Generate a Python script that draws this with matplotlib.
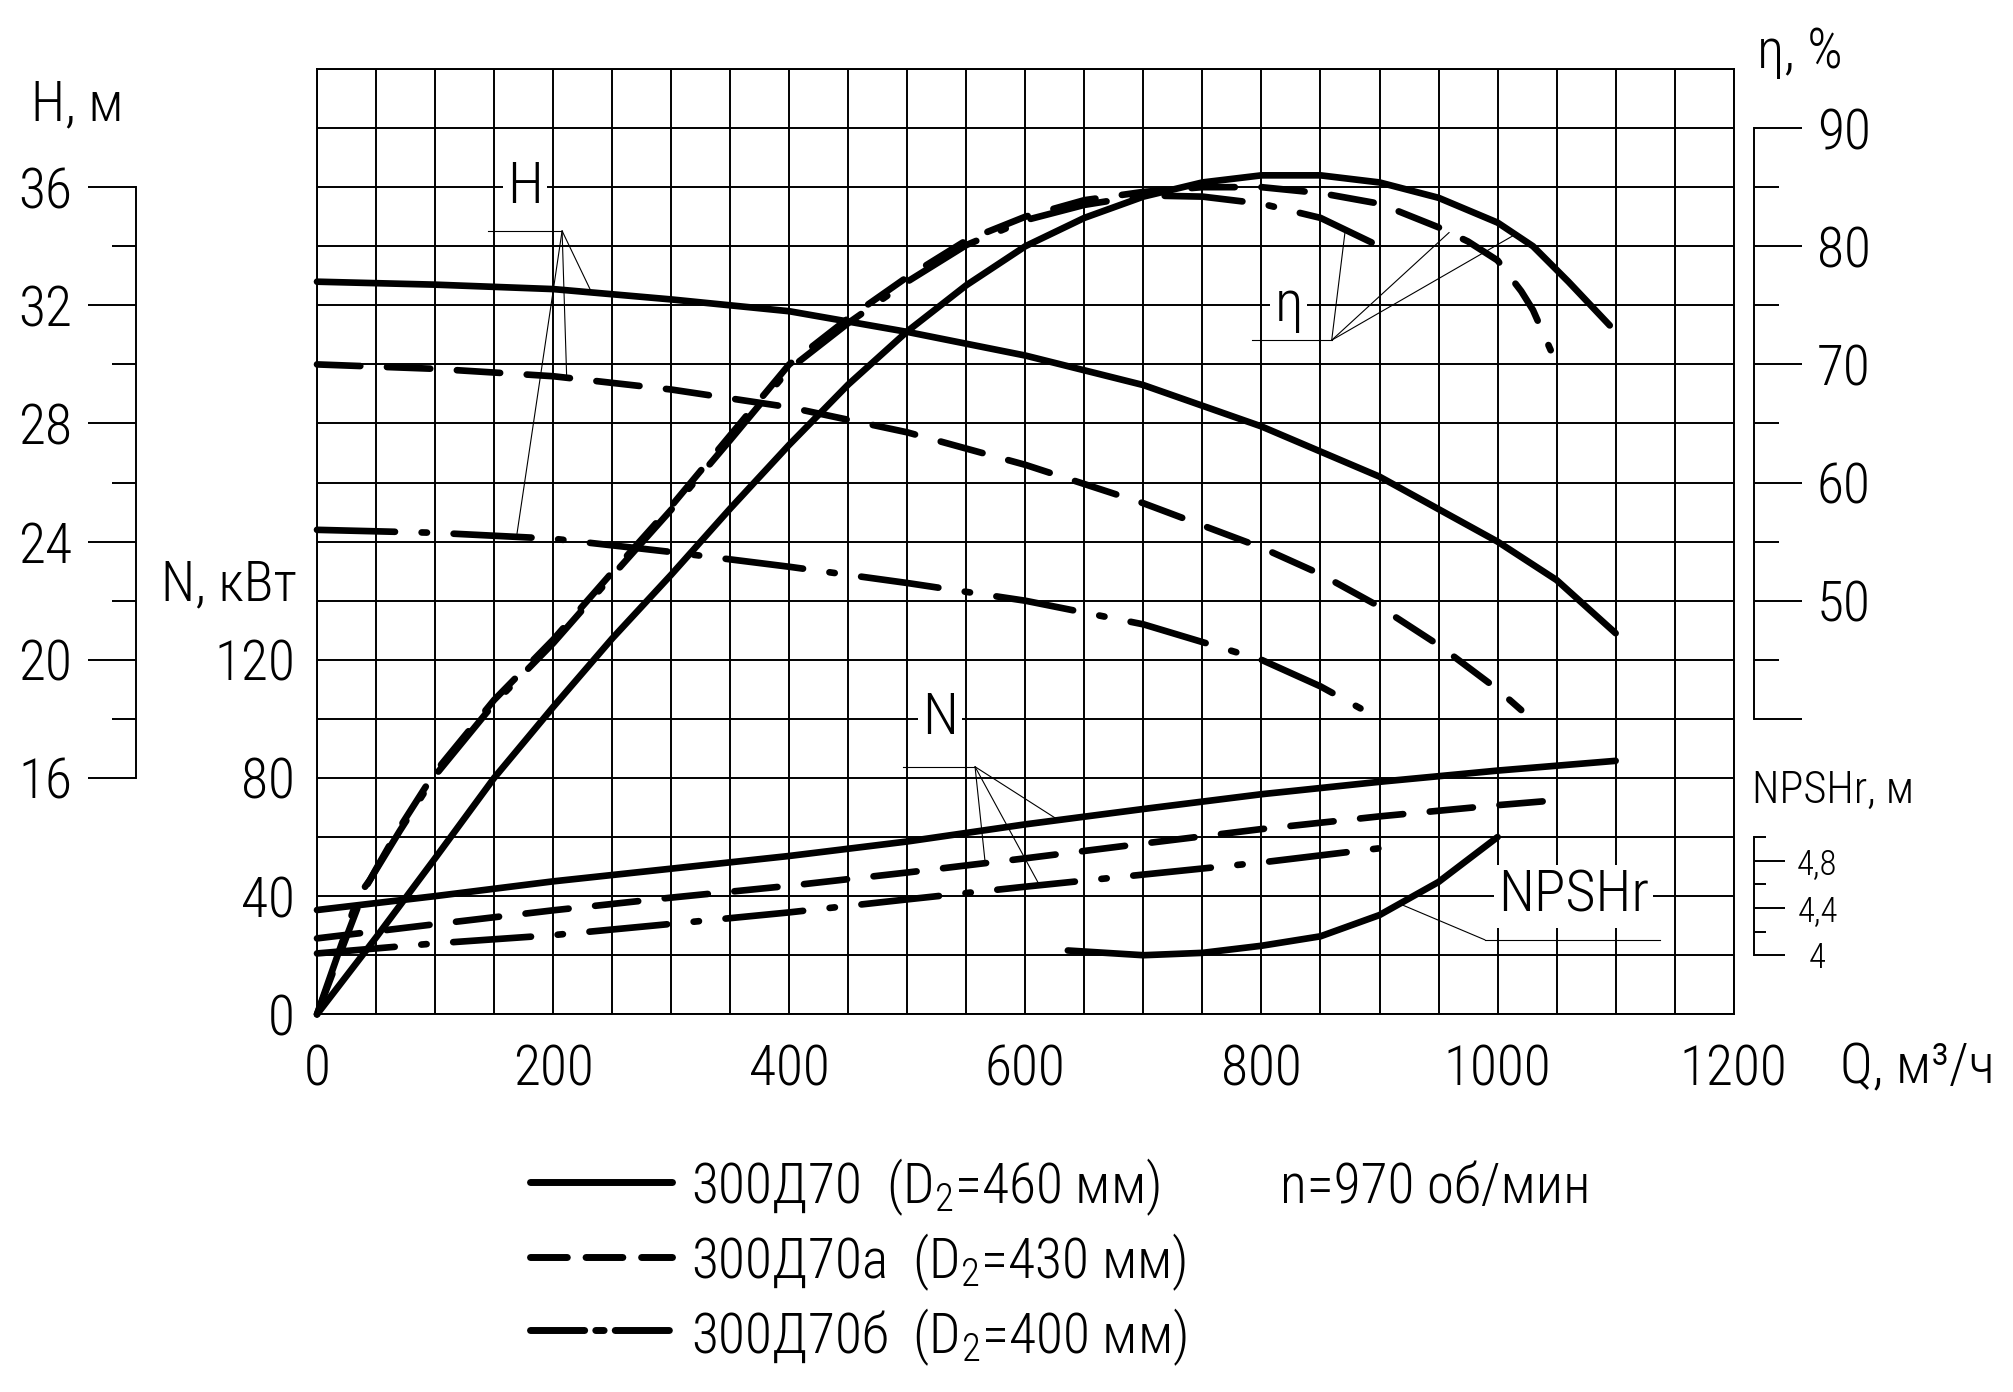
import numpy as np
import matplotlib
matplotlib.use("Agg")
import matplotlib.pyplot as plt
from matplotlib import font_manager
from matplotlib.lines import Line2D
from matplotlib.ticker import FixedLocator, FixedFormatter, FuncFormatter, MultipleLocator

# ----------------------------------------------------------------------------------------------------------------------
# Data (Q in m3/h)

# Head H, m
Q_H1 = [0, 100, 200, 300, 400, 500, 600, 700, 800, 900, 1000, 1050, 1100]
H1 = [32.8, 32.7, 32.55, 32.2, 31.8, 31.1, 30.3, 29.3, 27.9, 26.2, 24.0, 22.7, 20.9]
Q_H2 = [0, 100, 200, 300, 400, 500, 600, 700, 800, 850, 900, 950, 1000, 1020]
H2 = [30.0, 29.85, 29.6, 29.15, 28.55, 27.7, 26.6, 25.3, 23.8, 22.9, 21.8, 20.5, 19.0, 18.3]
Q_H3 = [0, 100, 200, 300, 400, 500, 600, 700, 800, 850, 900]
H3 = [24.4, 24.3, 24.1, 23.65, 23.15, 22.6, 22.0, 21.2, 20.0, 19.1, 18.0]

# Efficiency, %
Q_E1 = [0, 50, 100, 150, 200, 250, 300, 350, 400, 450, 500, 550, 600, 650, 700, 750, 800, 850,
        900, 950, 1000, 1030, 1060, 1095]
E1 = [15, 21.5, 28.2, 35, 41, 46.8, 52.2, 57.8, 63.2, 68.3, 72.8, 76.7, 80, 82.4, 84.2, 85.4, 86, 86,
      85.4, 84.1, 82, 80, 77, 73.3]
Q_E2 = [0, 40, 50, 70, 100, 150, 200, 250, 300, 350, 400, 450, 500, 550, 600, 650, 700, 750, 800,
        850, 900, 950, 975, 1000, 1020, 1030, 1045]
E2 = [15, 25.5, 27.3, 30.8, 35.5, 41.6, 46.7, 52.4, 58.0, 64.0, 70.0, 73.9, 77.4, 80.5, 82.5, 83.9,
      84.6, 85.0, 85.0, 84.5, 83.6, 81.6, 80.4, 78.8, 76.2, 74.6, 71.2]
Q_E3 = [0, 35, 45, 70, 100, 150, 200, 250, 300, 350, 400, 450, 500, 550, 600, 650, 700, 750, 800,
        850, 900]
E3 = [15, 25.0, 26.4, 30.5, 35.2, 41.3, 46.4, 52.1, 57.7, 63.6, 69.6, 73.5, 77.0, 80.1, 82.2, 83.5,
      84.3, 84.2, 83.6, 82.4, 80.0]

# Power N, kW
Q_N1 = [0, 100, 200, 300, 400, 500, 600, 700, 800, 900, 1000, 1100]
N1 = [35.3, 40.0, 45.0, 49.3, 53.6, 58.5, 64.3, 69.5, 74.5, 78.7, 82.5, 85.8]
Q_N2 = [0, 100, 200, 300, 400, 500, 600, 700, 800, 900, 1000, 1045]
N2 = [25.7, 30.5, 35.2, 39.5, 43.5, 48.0, 52.8, 57.8, 62.7, 67.0, 70.8, 72.3]
Q_N3 = [0, 100, 200, 300, 400, 500, 600, 700, 800, 900]
N3 = [20.6, 24.0, 26.8, 30.6, 34.5, 38.9, 43.2, 47.3, 51.4, 56.2]

# NPSHr, m
Q_P = [636, 700, 750, 800, 850, 900, 950, 1000]
P = [4.04, 4.0, 4.02, 4.08, 4.16, 4.34, 4.62, 5.0]

# Axis ticks and labels
N_LABELS = [0, 40, 80, 120]
H_TICKS = [16, 20, 24, 28, 32, 36]
H_MINOR = [18, 22, 26, 30, 34]
E_TICKS = [40, 50, 60, 70, 80, 90]
E_LABELS = ["", "50", "60", "70", "80", "90"]
E_MINOR = [45, 55, 65, 75, 85]
P_TICKS = [4.0, 4.4, 4.8]
P_LABELS = ["4", "4,4", "4,8"]
P_MINOR = [4.2, 4.6, 5.0]

LEGEND = ["300Д70  (D$_2$=460 мм)", "300Д70а  (D$_2$=430 мм)", "300Д70б  (D$_2$=400 мм)"]
SPEED = "n=970 об/мин"

# ----------------------------------------------------------------------------------------------------------------------
# Font: something narrow if it is there

W, H = 2013, 1392
entries = font_manager.fontManager.ttflist
names = {f.name for f in entries}
FONT, STRETCH = "DejaVu Sans", "normal"
for cand in ["Liberation Sans Narrow", "DejaVu Sans Condensed", "Roboto Condensed",
             "Noto Sans Condensed", "Open Sans Condensed"]:
    if cand in names:
        FONT = cand
        break
else:
    for fam in ["DejaVu Sans", "Noto Sans", "Roboto", "Open Sans"]:
        if any(f.name == fam and f.stretch == "condensed" for f in entries):
            FONT, STRETCH = fam, "condensed"
            break

plt.rcParams["font.family"] = [FONT, "DejaVu Sans"]
plt.rcParams["font.stretch"] = STRETCH
plt.rcParams["font.weight"] = "light"
plt.rcParams["mathtext.fontset"] = "custom"
plt.rcParams["mathtext.rm"] = FONT + ":light"
plt.rcParams["mathtext.default"] = "regular"

LW = 4.8
SOLID = dict(color="black", lw=LW, solid_capstyle="round", solid_joinstyle="round", clip_on=False)
DASH = dict(color="black", lw=LW, ls=(0, (6.5, 4.0)), dash_capstyle="round", clip_on=False)
DASHDOT = dict(color="black", lw=LW, ls=(0, (11.7, 4.0, 0.8, 4.0)), dash_capstyle="round", clip_on=False)
THIN = dict(color="black", lw=0.8)
GRID_LW = 1.4

# legend swatches are short, so their dashes are cut shorter
LEG_STYLES = [
    dict(color="black", lw=5, solid_capstyle="round"),
    dict(color="black", lw=5, ls=(0, (5.3, 2.7)), dash_capstyle="round"),
    dict(color="black", lw=5, ls=(0, (7.8, 1.6, 1.2, 1.6)), dash_capstyle="round"),
]


def fx(x):
    return x / W


def fy(y):
    return 1 - y / H


fig = plt.figure(figsize=(W / 100, H / 100), dpi=100)
ax = fig.add_axes([fx(317), fy(1014.3), 1416.7 / W, 945.3 / H])

# Main axes = N scale, carries the grid
ax.set_xlim(0, 1200)
ax.set_ylim(0, 320)
ax.xaxis.set_major_locator(MultipleLocator(50))
ax.yaxis.set_major_locator(MultipleLocator(20))
ax.xaxis.set_major_formatter(FuncFormatter(lambda v, p: f"{v:.0f}" if round(v) % 200 == 0 else ""))
ax.yaxis.set_major_formatter(FuncFormatter(lambda v, p: f"{v:.0f}" if round(v) in N_LABELS else ""))
ax.grid(True, color="black", lw=GRID_LW)
ax.tick_params(length=0, labelsize=40)
ax.tick_params(axis="x", pad=21)
ax.tick_params(axis="y", pad=15.8)
for s in ax.spines.values():
    s.set_linewidth(GRID_LW)


def twin(lo, hi):
    t = ax.twinx()
    t.set_ylim(lo, hi)
    t.set_xlim(0, 1200)
    for s in t.spines.values():
        s.set_visible(False)
    return t


# H scale on the far left
ax_h = twin(8, 40)
ax_h.yaxis.tick_left()
sp = ax_h.spines["left"]
sp.set_visible(True)
sp.set_position(("outward", 130.3))
sp.set_bounds(16, 36)
sp.set_linewidth(GRID_LW)
ax_h.yaxis.set_major_locator(FixedLocator(H_TICKS))
ax_h.yaxis.set_minor_locator(FixedLocator(H_MINOR))
ax_h.tick_params(which="major", direction="out", length=34.6, width=GRID_LW, labelsize=40, pad=50.4)
ax_h.tick_params(which="minor", direction="out", length=17.5, width=GRID_LW)
for tk in ax_h.yaxis.get_major_ticks():
    tk.label1.set_horizontalalignment("left")

# eta scale on the right
ax_e = twin(15, 95)
sp = ax_e.spines["right"]
sp.set_visible(True)
sp.set_position(("outward", 14.9))
sp.set_bounds(40, 90)
sp.set_linewidth(GRID_LW)
ax_e.yaxis.set_major_locator(FixedLocator(E_TICKS))
ax_e.yaxis.set_major_formatter(FixedFormatter(E_LABELS))
ax_e.yaxis.set_minor_locator(FixedLocator(E_MINOR))
ax_e.tick_params(which="major", direction="out", length=34.6, width=GRID_LW, labelsize=40, pad=10.4)
ax_e.tick_params(which="minor", direction="out", length=18, width=GRID_LW)

# NPSHr scale on the right, lower part
ax_p = twin(3.5, 11.5)
sp = ax_p.spines["right"]
sp.set_visible(True)
sp.set_position(("outward", 14.9))
sp.set_bounds(4.0, 5.0)
sp.set_linewidth(GRID_LW)
ax_p.yaxis.set_major_locator(FixedLocator(P_TICKS))
ax_p.yaxis.set_major_formatter(FixedFormatter(P_LABELS))
ax_p.yaxis.set_minor_locator(FixedLocator(P_MINOR))
ax_p.tick_params(which="major", direction="out", length=22, width=GRID_LW, labelsize=25, pad=23.4)
ax_p.tick_params(which="minor", direction="out", length=8.6, width=GRID_LW)
for tk in ax_p.yaxis.get_major_ticks():
    tk.label2.set_horizontalalignment("center")

# Curves
ax_h.plot(Q_H1, H1, **SOLID)
ax_h.plot(Q_H2, H2, **DASH)
ax_h.plot(Q_H3, H3, **DASHDOT)
ax_e.plot(Q_E1, E1, **SOLID)
ax_e.plot(Q_E2, E2, **DASH)
ax_e.plot(Q_E3, E3, **DASHDOT)
ax.plot(Q_N1, N1, **SOLID)
ax.plot(Q_N2, N2, **DASH)
ax.plot(Q_N3, N3, **DASHDOT)
ax_p.plot(Q_P, P, **SOLID)


# Leaders: knee given in (Q, N) of the main axes, tip sits on a curve
def leader(tax, qs, vs, q, knee):
    ax.annotate("", xy=(q, np.interp(q, qs, vs)), xycoords=tax.transData, xytext=knee,
                textcoords="data", arrowprops=dict(arrowstyle="-", shrinkA=0, shrinkB=0, **THIN))


ax.plot([145, 207.6], [265.2, 265.2], **THIN)
leader(ax_h, Q_H1, H1, 232.6, (207.6, 265.2))
leader(ax_h, Q_H2, H2, 211.5, (207.6, 265.2))
leader(ax_h, Q_H3, H3, 169, (207.6, 265.2))

ax.plot([496, 557.4], [83.8, 83.8], **THIN)
leader(ax, Q_N1, N1, 628, (557.4, 83.8))
leader(ax, Q_N2, N2, 566, (557.4, 83.8))
leader(ax, Q_N3, N3, 612, (557.4, 83.8))

ax.plot([791.7, 859.5], [228.2, 228.2], **THIN)
leader(ax_e, Q_E3, E3, 871, (859.5, 228.2))
leader(ax_e, Q_E2, E2, 959, (859.5, 228.2))
leader(ax_e, Q_E1, E1, 1015, (859.5, 228.2))

ax.plot([989.3, 1137.6], [25.2, 25.2], **THIN)
leader(ax_p, Q_P, P, 917, (989.3, 25.2))

box = dict(facecolor="white", edgecolor="none", pad=3)
ax.text(176, 280, "H", ha="center", va="center", fontsize=42, bbox=box)
ax.text(528, 100, "N", ha="center", va="center", fontsize=42, bbox=box)
ax.text(823, 240, "η", ha="center", va="center", fontsize=42, bbox=box)
ax.text(1064, 40, "NPSHr", ha="center", va="center", fontsize=42, bbox=box)

# Axis titles
fig.text(fx(31), fy(120), "H, м", fontsize=40, ha="left", va="baseline")
fig.text(fx(297), fy(600), "N, кВт", fontsize=40, ha="right", va="baseline")
fig.text(fx(1757), fy(68), "η, %", fontsize=40, ha="left", va="baseline")
fig.text(fx(1752), fy(802.7), "NPSHr, м", fontsize=32, ha="left", va="baseline")
fig.text(fx(1840), fy(1083), "Q, м³/ч", fontsize=40, ha="left", va="baseline")

# Legend
for style, label, y_line, y_text in zip(LEG_STYLES, LEGEND, [1181.7, 1256.7, 1330], [1203, 1278, 1353]):
    fig.add_artist(Line2D([fx(530), fx(672)], [fy(y_line)] * 2, transform=fig.transFigure, **style))
    fig.text(fx(691), fy(y_text), label, fontsize=40, ha="left", va="baseline")
fig.text(fx(1280), fy(1203), SPEED, fontsize=40, ha="left", va="baseline")

fig.savefig("out.png", dpi=100)
